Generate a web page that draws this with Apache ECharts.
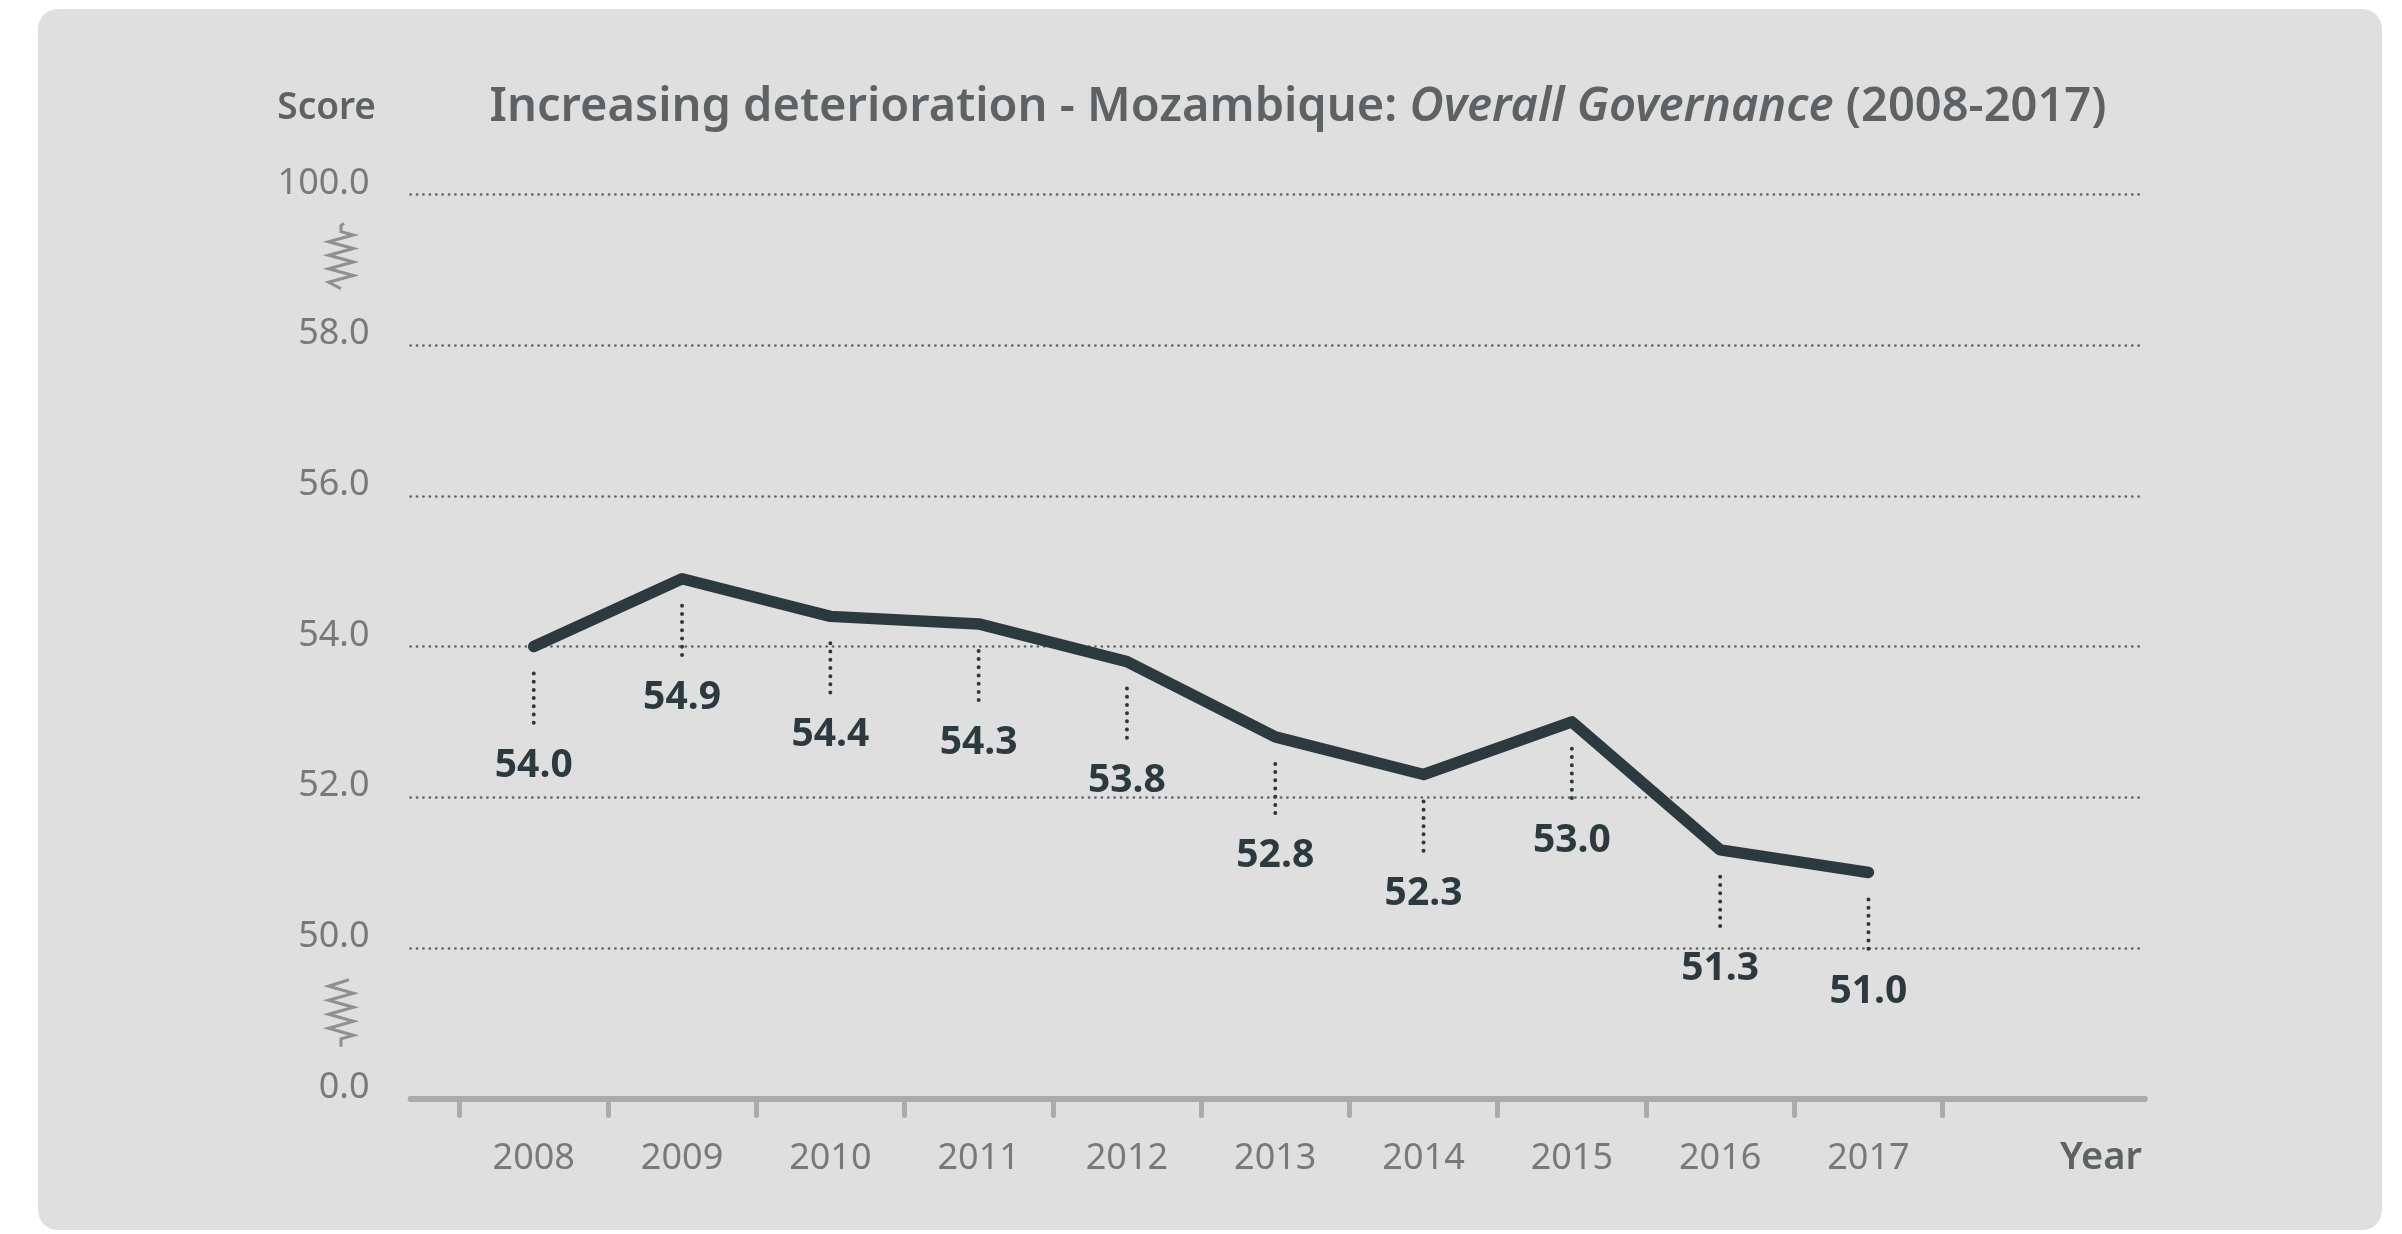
<!DOCTYPE html>
<html>
<head>
<meta charset="utf-8">
<script src="https://cdn.jsdelivr.net/npm/echarts@6/dist/echarts.min.js"></script>
<style>
html,body{margin:0;padding:0;background:#ffffff;}
#chart{width:2402px;height:1234px;}
</style>
</head>
<body>
<div id="chart"></div>
<script>
const years = ['2008','2009','2010','2011','2012','2013','2014','2015','2016','2017'];
const scores = [54.0, 54.9, 54.4, 54.3, 53.8, 52.8, 52.3, 53.0, 51.3, 51.0];
const yTickValues = [48, 50, 52, 54, 56, 58, 60];
const yTickLabels = ['0.0', '50.0', '52.0', '54.0', '56.0', '58.0', '100.0'];

const FONT = '"Noto Sans", "Open Sans", sans-serif';
const DARK = '#2c3a40';
const GRAY_TXT = '#77797b';
const TITLE_C = '#5f6264';

const chart = echarts.init(document.getElementById('chart'), null, {renderer: 'canvas'});

const gridTop = 194.6, gridH = 903.8;

function yLabel(v) {
  const i = yTickValues.indexOf(v);
  return i >= 0 ? yTickLabels[i] : '';
}

const option = {
  backgroundColor: '#ffffff',
  animation: false,
  grid: [
    {left: 459.6, top: gridTop, width: 1483, height: gridH},
    {left: 410.6, top: gridTop, width: 1734.2, height: gridH}
  ],
  xAxis: [
    {
      type: 'category', gridIndex: 0, data: years, boundaryGap: true,
      axisLine: {show: false},
      axisTick: {show: true, length: 17, lineStyle: {color: '#a9abac', width: 5, cap: 'round'}},
      axisLabel: {show: true, color: GRAY_TXT, fontFamily: FONT, fontSize: 36, margin: 42},
      splitLine: {show: false}
    },
    {
      type: 'value', gridIndex: 1, min: 0, max: 1,
      axisLine: {show: true, lineStyle: {color: '#a9abac', width: 6}},
      axisTick: {show: false}, axisLabel: {show: false}, splitLine: {show: false}
    }
  ],
  yAxis: [
    {type: 'value', gridIndex: 0, min: 48, max: 60, interval: 2, show: false},
    {
      type: 'value', gridIndex: 1, min: 48, max: 60, interval: 2,
      axisLine: {show: false}, axisTick: {show: false},
      axisLabel: {show: true, color: GRAY_TXT, fontFamily: FONT, fontSize: 36, margin: 41,
                  verticalAlign: 'bottom', lineHeight: 22, formatter: yLabel},
      splitLine: {show: true, lineStyle: {color: '#616466', width: 2.7, type: [0.1, 6.3], cap: 'round'}}
    }
  ],
  series: [
    {
      type: 'line', xAxisIndex: 0, yAxisIndex: 0, data: scores,
      showSymbol: false, symbol: 'none',
      lineStyle: {color: DARK, width: 11.5, cap: 'round', join: 'round'},
      z: 5
    },
    {
      type: 'custom', xAxisIndex: 0, yAxisIndex: 0,
      data: scores.map((v, i) => [i, v]),
      renderItem: function (params, api) {
        const p = api.coord([api.value(0), api.value(1)]);
        return {
          type: 'group',
          children: [
            {type: 'line', shape: {x1: p[0], y1: p[1] + 27, x2: p[0], y2: p[1] + 77},
             style: {stroke: DARK, lineWidth: 4, lineDash: [0, 8.2], lineCap: 'round'}},
            {type: 'text', style: {text: api.value(1).toFixed(1), x: p[0], y: p[1] + 119,
             align: 'center', verticalAlign: 'middle', fill: DARK,
             font: 'bold 39px ' + FONT}}
          ]
        };
      },
      z: 4
    }
  ]
};

chart.setOption(option);

function spring(cx, top, bottom, stemAtTop) {
  const pts = [];
  const amp = 12.5, stem = 8;
  if (stemAtTop) {
    pts.push([cx + 3, top]);
    pts.push([cx, top + 2]);
    pts.push([cx, top + stem]);
    const zTop = top + stem, zBot = bottom - 3, n = 8;
    for (let k = 1; k <= n; k++) {
      const y = zTop + (zBot - zTop) * k / n;
      pts.push([k % 2 ? cx + amp : cx - amp, y - (zBot - zTop) / (2 * n)]);
    }
    pts.push([cx, bottom]);
  } else {
    pts.push([cx + 8, top]);
    const zTop = top + 3, zBot = bottom - stem, n = 8;
    for (let k = 1; k <= n; k++) {
      const y = zTop + (zBot - zTop) * k / n;
      pts.push([k % 2 ? cx - amp : cx + amp, y - (zBot - zTop) / (2 * n)]);
    }
    pts.push([cx, zBot]);
    pts.push([cx, bottom]);
  }
  return pts;
}

const y60 = chart.convertToPixel({yAxisIndex: 1}, 60);
const y50 = chart.convertToPixel({yAxisIndex: 1}, 50);
const springX = 341;

chart.setOption({
  graphic: [
    {type: 'rect', z: -10, silent: true,
     shape: {x: 38, y: 9, width: 2344, height: 1221, r: 20},
     style: {fill: '#dedfde'}},
    {type: 'polyline', z: 10, silent: true,
     shape: {points: spring(springX, y60 + 29, y60 + 94, true)},
     style: {stroke: '#8e9092', lineWidth: 3, fill: null, lineJoin: 'miter'}},
    {type: 'polyline', z: 10, silent: true,
     shape: {points: spring(springX, y50 + 32, y50 + 99, false)},
     style: {stroke: '#8e9092', lineWidth: 3, fill: null, lineJoin: 'miter'}},
    {type: 'text', z: 10, silent: true,
     style: {
       x: 1298, y: 108, align: 'center', verticalAlign: 'middle',
       text: '{a|Increasing deterioration - Mozambique: }{b|Overall Governance}{a| (2008-2017)}',
       rich: {
         a: {font: '600 47px ' + FONT, fill: TITLE_C},
         b: {font: 'italic 600 47px ' + FONT, fill: TITLE_C}
       }
     }},
    {type: 'text', z: 10, silent: true,
     style: {x: 376, y: 108, align: 'right', verticalAlign: 'middle', text: 'Score',
             font: '600 37px ' + FONT, fill: TITLE_C}},
    {type: 'text', z: 10, silent: true,
     style: {x: 2142, y: 1158, align: 'right', verticalAlign: 'middle', text: 'Year',
             font: '600 38px ' + FONT, fill: TITLE_C}}
  ]
});
</script>
</body>
</html>
